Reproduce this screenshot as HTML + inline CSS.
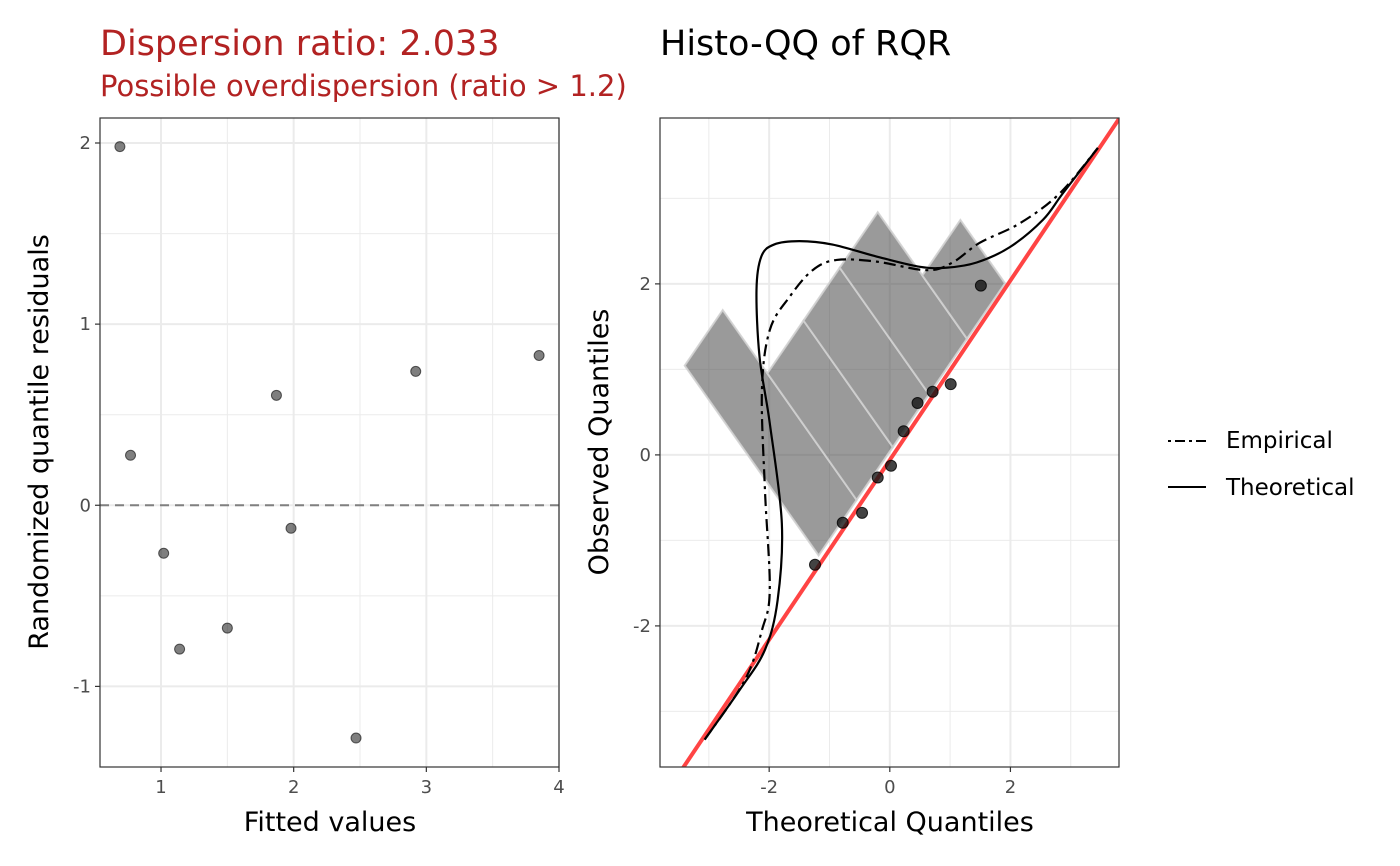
<!DOCTYPE html>
<html><head><meta charset="utf-8"><style>
body{margin:0;background:#fff;}
svg{display:block;font-family:"DejaVu Sans","Liberation Sans",sans-serif;}
</style></head><body>
<svg id="c" width="1400" height="866" viewBox="0 0 1400 866">
<text x="100" y="55" font-size="35" fill="#B22222">Dispersion ratio: 2.033</text>
<text x="100" y="96" font-size="29" fill="#B22222">Possible overdispersion (ratio &gt; 1.2)</text>
<text x="660" y="55" font-size="35" fill="#000">Histo-QQ of RQR</text>
<g id="left"></g>
<g id="right"></g>
<g>
<line x1="1168" y1="441" x2="1206" y2="441" stroke="#000" stroke-width="2" stroke-dasharray="3,4,10,4"/>
<text x="1226" y="448" font-size="23" fill="#000">Empirical</text>
<line x1="1168" y1="487" x2="1206" y2="487" stroke="#000" stroke-width="2"/>
<text x="1226" y="495" font-size="23" fill="#000">Theoretical</text>
</g>
</svg>
<script>
// ---- data: left panel ----
const fittedValues=[0.69,0.77,1.02,1.14,1.50,1.87,1.98,2.47,2.92,3.85];
const residuals=[1.98,0.276,-0.265,-0.794,-0.678,0.607,-0.127,-1.285,0.739,0.827];
const leftXTicks=[1,2,3,4];
const leftYTicks=[-1,0,1,2];
// ---- data: right panel ----
const theoQ=[-1.24,-0.78,-0.46,-0.20,0.02,0.23,0.46,0.71,1.01,1.51];
const obsQ=[-1.285,-0.794,-0.678,-0.265,-0.127,0.276,0.607,0.739,0.827,1.98];
const rightXTicks=[-2,0,2];
const rightYTicks=[-2,0,2];
const histEdges=[-1.18,-0.55,0.05,0.65,1.28,1.91];
const histCounts=[3,2,2,2,1];
const histUnit=0.74;
const refSlope=1.05, refIntercept=-0.06;
const theoX=[-3.07,-2.49,-2.07,-1.86,-1.79,-1.99,-2.16,-2.21,-2.13,-1.92,-1.50,-0.95,-0.22,0.50,0.95,1.44,1.99,2.54,2.87,3.45];
const theoY=[-3.33,-2.75,-2.28,-1.70,-0.80,0.37,1.15,1.93,2.32,2.46,2.50,2.46,2.32,2.20,2.19,2.25,2.43,2.75,3.06,3.59];
const empX=[-3.07,-2.40,-2.12,-1.99,-2.07,-2.12,-1.99,-1.66,-1.28,-0.88,-0.22,0.61,1.04,1.49,2.16,2.82,3.45];
const empY=[-3.33,-2.63,-2.05,-1.58,-0.41,0.76,1.46,1.85,2.16,2.28,2.26,2.16,2.25,2.48,2.71,3.06,3.59];

const NS="http://www.w3.org/2000/svg";
function mk(tag,attrs,parent){const e=document.createElementNS(NS,tag);for(const k in attrs)e.setAttribute(k,attrs[k]);parent.appendChild(e);return e;}
function smooth(pts){let d="M"+pts[0][0]+","+pts[0][1];for(let i=0;i<pts.length-1;i++){const p0=pts[Math.max(0,i-1)],p1=pts[i],p2=pts[i+1],p3=pts[Math.min(pts.length-1,i+2)];d+=" C"+(p1[0]+(p2[0]-p0[0])/6)+","+(p1[1]+(p2[1]-p0[1])/6)+" "+(p2[0]-(p3[0]-p1[0])/6)+","+(p2[1]-(p3[1]-p1[1])/6)+" "+p2[0]+","+p2[1];}return d;}

function panel(g,L,R,T,B,xmin,xmax,ymin,ymax,xMaj,xMin,yMaj,yMin,clipId){
  const sx=v=>L+(v-xmin)/(xmax-xmin)*(R-L), sy=v=>B-(v-ymin)/(ymax-ymin)*(B-T);
  const defs=mk('defs',{},g);const cp=mk('clipPath',{id:clipId},defs);mk('rect',{x:L,y:T,width:R-L,height:B-T},cp);
  xMin.forEach(v=>{const l=mk('line',{x1:sx(v),x2:sx(v),y1:T,y2:B,stroke:"#ebebeb","stroke-width":1},g);});
  yMin.forEach(v=>{const l=mk('line',{x1:L,x2:R,y1:sy(v),y2:sy(v),stroke:"#ebebeb","stroke-width":1},g);});
  xMaj.forEach(v=>{const l=mk('line',{x1:sx(v),x2:sx(v),y1:T,y2:B,stroke:"#ebebeb","stroke-width":2},g);
    mk('line',{x1:sx(v),x2:sx(v),y1:B,y2:B+5,stroke:"#333","stroke-width":1.2},g);
    const t=mk('text',{x:sx(v),y:B+26,"font-size":18,fill:"#4d4d4d","text-anchor":"middle"},g);t.textContent=v;});
  yMaj.forEach(v=>{const l=mk('line',{x1:L,x2:R,y1:sy(v),y2:sy(v),stroke:"#ebebeb","stroke-width":2},g);
    mk('line',{x1:L-5,x2:L,y1:sy(v),y2:sy(v),stroke:"#333","stroke-width":1.2},g);
    const t=mk('text',{x:L-9,y:sy(v)+6,"font-size":18,fill:"#4d4d4d","text-anchor":"end"},g);t.textContent=v;});
  return {sx,sy};
}
// Left panel
const lg=document.getElementById('left');
const Ls=panel(lg,100,559,118,767,0.54,4,-1.445,2.138,leftXTicks,[1.5,2.5,3.5],leftYTicks,[-0.5,0.5,1.5],'clipL');
const zl=mk('line',{x1:100,x2:559,y1:Ls.sy(0),y2:Ls.sy(0),stroke:"#808080","stroke-width":2,"stroke-dasharray":"9,6"},lg);

fittedValues.forEach((v,i)=>{const c=mk('circle',{cx:Ls.sx(v),cy:Ls.sy(residuals[i]),r:5,fill:"rgba(0,0,0,0.5)",stroke:"rgba(0,0,0,0.6)","stroke-width":1},lg);
  });
mk('rect',{x:100,y:118,width:459,height:649,fill:"none",stroke:"#333","stroke-width":1.2},lg);
let t=mk('text',{x:330,y:831,"font-size":27,"text-anchor":"middle"},lg);t.textContent="Fitted values";

t=mk('text',{x:0,y:0,"font-size":27,"text-anchor":"middle",transform:"translate(48,442) rotate(-90)"},lg);t.textContent="Randomized quantile residuals";


// Right panel
const rg=document.getElementById('right');
const Rs=panel(rg,660,1119,118,767,-3.81,3.80,-3.65,3.94,rightXTicks,[-3,-1,1,3],rightYTicks,[-3,-1,1,3],'clipR');
const clipG=mk('g',{"clip-path":"url(#clipR)"},rg);
const baseY=x=>1.03*x+0.04;
for(let i=0;i<histCounts.length;i++){
  const a=histEdges[i],b=histEdges[i+1],h=histCounts[i]*histUnit;
  const p=[[a,baseY(a)],[a-h,baseY(a)+h],[b-h,baseY(b)+h],[b,baseY(b)]].map(q=>Rs.sx(q[0])+","+Rs.sy(q[1])).join(" ");
  const poly=mk('polygon',{points:p,fill:"rgba(77,77,77,0.57)",stroke:"rgba(210,210,210,0.9)","stroke-width":2},clipG);
  
}
const rl=mk('line',{x1:Rs.sx(-4),y1:Rs.sy(refSlope*-4+refIntercept),x2:Rs.sx(4),y2:Rs.sy(refSlope*4+refIntercept),stroke:"#ff3030","stroke-opacity":0.9,"stroke-width":4},clipG);

const ep=mk('path',{d:smooth(empX.map((x,i)=>[Rs.sx(x),Rs.sy(empY[i])])),fill:"none",stroke:"#000","stroke-width":2.2,"stroke-dasharray":"12,5,3,5"},clipG);

const tp=mk('path',{d:smooth(theoX.map((x,i)=>[Rs.sx(x),Rs.sy(theoY[i])])),fill:"none",stroke:"#000","stroke-width":2.2},clipG);

theoQ.forEach((v,i)=>{const c=mk('circle',{cx:Rs.sx(v),cy:Rs.sy(obsQ[i]),r:5.5,fill:"rgba(20,20,20,0.8)",stroke:"rgba(0,0,0,0.8)","stroke-width":1},rg);
  });
mk('rect',{x:660,y:118,width:459,height:649,fill:"none",stroke:"#333","stroke-width":1.2},rg);
t=mk('text',{x:890,y:831,"font-size":27,"text-anchor":"middle"},rg);t.textContent="Theoretical Quantiles";

t=mk('text',{x:0,y:0,"font-size":27,"text-anchor":"middle",transform:"translate(608,442) rotate(-90)"},rg);t.textContent="Observed Quantiles";

</script>
</body></html>
